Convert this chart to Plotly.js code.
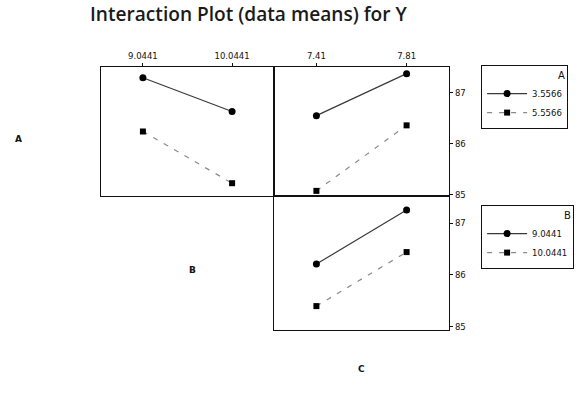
<!DOCTYPE html>
<html>
<head>
<meta charset="utf-8">
<script src="https://cdn.plot.ly/plotly-3.0.1.min.js"></script>
<style>
  html, body { margin: 0; padding: 0; background: #fff; }
  #chart { width: 584px; height: 408px; }
</style>
</head>
<body>
<div id="chart"></div>
<script>
// Factor levels
const levelsA = ['3.5566', '5.5566'];
const levelsB = ['9.0441', '10.0441'];
const levelsC = ['7.41', '7.81'];

// Cell means of Y
const meansAbyB_A1 = [87.29, 86.63];
const meansAbyB_A2 = [86.24, 85.23];
const meansAbyC_A1 = [86.55, 87.37];
const meansAbyC_A2 = [85.08, 86.36];
const meansBbyC_B1 = [86.21, 87.25];
const meansBbyC_B2 = [85.40, 86.44];

const yTicks = [85, 86, 87];
const titleText = 'Interaction Plot (data means) for Y';

const W = 584, H = 408;
const px = v => v / W;
const py = v => (H - v) / H;

// Size the title font so the heading spans a fixed width
const titleFamily = "'Open Sans', sans-serif";
const titleWeight = 600;
function fitFontSize(text, family, weight, targetWidth) {
  const ctx = document.createElement('canvas').getContext('2d');
  ctx.font = weight + ' 100px ' + family;
  const w = ctx.measureText(text).width;
  return Math.max(10, Math.min(22, 100 * targetWidth / w));
}
const titleSize = fitFontSize(titleText, titleFamily, titleWeight, 317);

const solidLine = { color: '#3a3a3a', width: 1.2, dash: 'solid' };
const dashLine = { color: '#8a8a8a', width: 1.2, dash: '5px,7px' };
const dot = { symbol: 'circle', size: 7, color: '#000' };
const sq = { symbol: 'square', size: 6, color: '#000' };

const traces = [
  { x: levelsB, y: meansAbyB_A1, xaxis: 'x', yaxis: 'y', mode: 'lines+markers',
    line: solidLine, marker: dot, name: levelsA[0], legend: 'legend' },
  { x: levelsB, y: meansAbyB_A2, xaxis: 'x', yaxis: 'y', mode: 'lines+markers',
    line: dashLine, marker: sq, name: levelsA[1], legend: 'legend' },
  { x: levelsC, y: meansAbyC_A1, xaxis: 'x2', yaxis: 'y2', mode: 'lines+markers',
    line: solidLine, marker: dot, showlegend: false },
  { x: levelsC, y: meansAbyC_A2, xaxis: 'x2', yaxis: 'y2', mode: 'lines+markers',
    line: dashLine, marker: sq, showlegend: false },
  { x: levelsC, y: meansBbyC_B1, xaxis: 'x3', yaxis: 'y3', mode: 'lines+markers',
    line: solidLine, marker: dot, name: levelsB[0], legend: 'legend2' },
  { x: levelsC, y: meansBbyC_B2, xaxis: 'x3', yaxis: 'y3', mode: 'lines+markers',
    line: dashLine, marker: sq, name: levelsB[1], legend: 'legend2' }
];

const tickFont = { family: 'DejaVu Sans, sans-serif', size: 8.5, color: '#111' };
const frame = { showline: true, linecolor: '#111', linewidth: 1.2, mirror: true,
                showgrid: false, zeroline: false };

const xCommon = Object.assign({}, frame, {
  type: 'category', range: [-0.47, 1.47], side: 'top',
  ticks: 'outside', ticklen: 3, tickcolor: '#111', tickfont: tickFont
});
const yCommon = Object.assign({}, frame, {
  tickvals: yTicks, ticks: 'outside', ticklen: 3, tickcolor: '#111',
  tickfont: tickFont, side: 'right'
});

const topDom = [py(196), py(67)];
const botDom = [py(330), py(196)];

const legendCommon = {
  xanchor: 'left', yanchor: 'top', bgcolor: '#fff',
  bordercolor: '#111', borderwidth: 1.1,
  font: { family: 'DejaVu Sans, sans-serif', size: 8.5, color: '#111' },
  tracegroupgap: 0, itemwidth: 40,
  entrywidth: 112, entrywidthmode: 'pixels'
};

const labelFont = { family: 'DejaVu Sans, sans-serif', size: 9, color: '#111', weight: 700 };

const layout = {
  width: W, height: H,
  margin: { l: 0, r: 0, t: 0, b: 0 },
  paper_bgcolor: '#fff', plot_bgcolor: '#fff',
  title: {
    text: titleText,
    x: px(90), xanchor: 'left', y: py(14), yanchor: 'middle',
    font: { family: titleFamily, size: titleSize, color: '#1a1a1a', weight: titleWeight }
  },
  xaxis: Object.assign({}, xCommon, { domain: [px(101), px(274)], anchor: 'y' }),
  yaxis: Object.assign({}, yCommon, { domain: topDom, anchor: 'x', range: [84.98, 87.5],
                                      showticklabels: false, ticks: '' }),
  xaxis2: Object.assign({}, xCommon, { domain: [px(274), px(449)], anchor: 'y2' }),
  yaxis2: Object.assign({}, yCommon, { domain: topDom, anchor: 'x2', range: [84.98, 87.5] }),
  xaxis3: Object.assign({}, xCommon, { domain: [px(274), px(449)], anchor: 'y3',
                                       showticklabels: false, ticks: '' }),
  yaxis3: Object.assign({}, yCommon, { domain: botDom, anchor: 'x3', range: [84.94, 87.52] }),
  legend: Object.assign({}, legendCommon, {
    x: px(481), y: py(65), title: { text: 'A', side: 'top right' }
  }),
  legend2: Object.assign({}, legendCommon, {
    x: px(481), y: py(205), title: { text: 'B', side: 'top right' }
  }),
  // Factor names on the diagonal of the interaction matrix
  annotations: [
    { text: 'A', x: px(13), y: py(139), xref: 'paper', yref: 'paper', showarrow: false, font: labelFont },
    { text: 'B', x: px(187), y: py(270), xref: 'paper', yref: 'paper', showarrow: false, font: labelFont },
    { text: 'C', x: px(361), y: py(376), xref: 'paper', yref: 'paper', showarrow: false, font: labelFont }
  ],
  showlegend: true
};

Plotly.newPlot('chart', traces, layout, { displayModeBar: false, staticPlot: true });
</script>
</body>
</html>
